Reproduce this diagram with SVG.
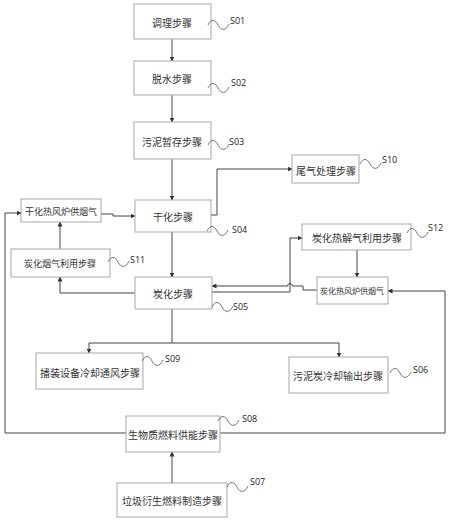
<svg xmlns="http://www.w3.org/2000/svg" width="450" height="522" viewBox="0 0 450 522">
<style>
.box{fill:#fff;stroke:#a8a8a8;stroke-width:1}
.t{font-family:"Noto Sans CJK SC","Noto Sans CJK JP",sans-serif;font-size:10px;fill:#333;text-anchor:middle;dominant-baseline:central}
.ts{font-size:9px}
.tx{font-size:8px}
.lbl{font-family:"Open Sans","Liberation Sans",sans-serif;font-size:9px;fill:#222}
.sq{fill:none;stroke:#555;stroke-width:0.8}
.c{fill:none;stroke:#444;stroke-width:1}
.a{marker-end:url(#ah)}
</style>
<defs>
<marker id="ah" viewBox="0 0 10 10" refX="9" refY="5" markerWidth="5" markerHeight="5" orient="auto" markerUnits="userSpaceOnUse">
<path d="M0,0 L10,5 L0,10 z" fill="#333"/>
</marker>
<path id="wave" d="M0,0 C3,-6 7,-6 10,0 C13,6 18,6 21,-1"/>
</defs>
<rect width="450" height="522" fill="#fff"/>
<g id="connectors">
<path class="c a" d="M172,39 V61"/>
<path class="c a" d="M172,95 V122"/>
<path class="c a" d="M172,159 V200"/>
<path class="c a" d="M211,215 H217 V169 H292"/>
<path class="c a" d="M101,214 H113 V216 H135"/>
<path class="c a" d="M172,232 V277"/>
<path class="c a" d="M135,293 H60 V277"/>
<path class="c a" d="M60,249 V222"/>
<path class="c a" d="M212,292 H290 V238 H302"/>
<path class="c a" d="M317,290 H303 V286 H292.5 A2.5,2.5 0 0 0 287.5,286 H212"/>
<path class="c a" d="M357,250 V277"/>
<path class="c" d="M172,309 V343 M89,343 H339"/>
<path class="c a" d="M89,343 V353"/>
<path class="c a" d="M339,343 V357"/>
<path class="c" d="M5,433 H445"/>
<path class="c a" d="M5,433 V213 H21"/>
<path class="c a" d="M445,433 V291 H388"/>
<path class="c a" d="M172,483 V452"/>
</g>
<g id="S01"><rect class="box" x="134" y="4" width="77" height="35"/><text class="t" x="172" y="22">调理步骤</text><use href="#wave" class="sq" transform="translate(208,25)"/><text class="lbl" x="230" y="24">S01</text></g>
<g id="S02"><rect class="box" x="134" y="61" width="77" height="34"/><text class="t" x="172" y="78">脱水步骤</text><use href="#wave" class="sq" transform="translate(208,88)"/><text class="lbl" x="231" y="86">S02</text></g>
<g id="S03"><rect class="box" x="134" y="122" width="77" height="37"/><text class="t" x="172" y="141">污泥暂存步骤</text><use href="#wave" class="sq" transform="translate(208,145)"/><text class="lbl" x="229" y="145">S03</text></g>
<g id="S10"><rect class="box" x="292" y="155" width="67" height="28"/><text class="t" x="326" y="170">尾气处理步骤</text><use href="#wave" class="sq" transform="translate(360,164)"/><text class="lbl" x="382" y="163">S10</text></g>
<g id="S04"><rect class="box" x="135" y="200" width="76" height="32"/><text class="t" x="173" y="216">干化步骤</text><use href="#wave" class="sq" transform="translate(207,231)"/><text class="lbl" x="232" y="233">S04</text></g>
<g id="dry-furnace"><rect class="box" x="21" y="199" width="80" height="23"/><text class="t ts" x="61" y="211">干化热风炉供烟气</text></g>
<g id="S11"><rect class="box" x="11" y="249" width="99" height="28"/><text class="t ts" x="60" y="263">炭化烟气利用步骤</text><use href="#wave" class="sq" transform="translate(108,262)"/><text class="lbl" x="130" y="263">S11</text></g>
<g id="S12"><rect class="box" x="302" y="224" width="109" height="26"/><text class="t" x="357" y="237">炭化热解气利用步骤</text><use href="#wave" class="sq" transform="translate(407,233)"/><text class="lbl" x="428" y="231">S12</text></g>
<g id="S05"><rect class="box" x="135" y="277" width="77" height="32"/><text class="t" x="173" y="293">炭化步骤</text><use href="#wave" class="sq" transform="translate(212,307)"/><text class="lbl" x="233" y="310">S05</text></g>
<g id="carb-furnace"><rect class="box" x="317" y="277" width="71" height="27"/><text class="t tx" x="352" y="290">炭化热风炉供烟气</text></g>
<g id="S09"><rect class="box" x="36" y="353" width="107" height="36"/><text class="t" x="90" y="372">播装设备冷却通风步骤</text><use href="#wave" class="sq" transform="translate(142,361)"/><text class="lbl" x="165" y="362">S09</text></g>
<g id="S06"><rect class="box" x="289" y="357" width="99" height="36"/><text class="t" x="338" y="375">污泥炭冷却输出步骤</text><use href="#wave" class="sq" transform="translate(390,373)"/><text class="lbl" x="413" y="373">S06</text></g>
<g id="S08"><rect class="box" x="126" y="416" width="94" height="36"/><text class="t" x="173" y="434">生物质燃料供能步骤</text><use href="#wave" class="sq" transform="translate(218,421)"/><text class="lbl" x="242" y="422">S08</text></g>
<g id="S07"><rect class="box" x="117" y="483" width="110" height="34"/><text class="t" x="172" y="500">垃圾衍生燃料制造步骤</text><use href="#wave" class="sq" transform="translate(227,487)"/><text class="lbl" x="250" y="485">S07</text></g>
</svg>
